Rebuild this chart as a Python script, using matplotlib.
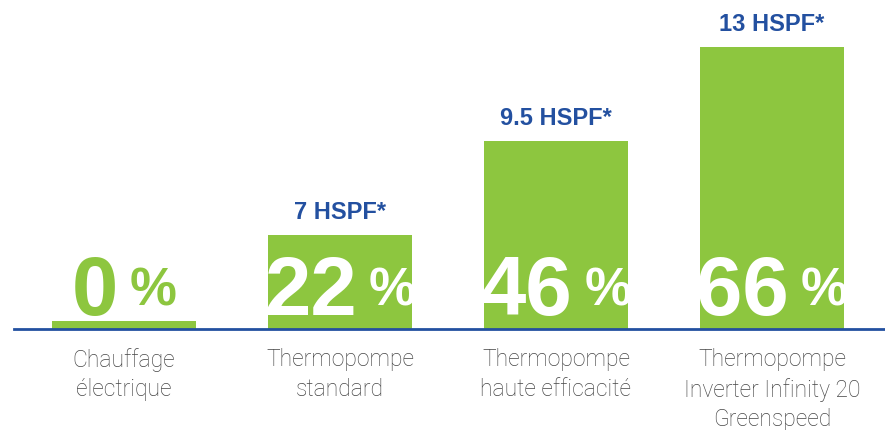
import matplotlib.pyplot as plt
import matplotlib.transforms as mtransforms

# Data
categories = ["Chauffage\nélectrique", "Thermopompe\nstandard",
              "Thermopompe\nhaute efficacité", "Thermopompe\nInverter Infinity 20\nGreenspeed"]
pct_labels = ["0", "22", "46", "66"]
bar_heights = [1.9, 22, 44, 66]
hspf_labels = ["", "7 HSPF*", "9.5 HSPF*", "13 HSPF*"]

GREEN = "#8dc63f"
BLUE = "#2350a0"
GREY = "#454545"

fig = plt.figure(figsize=(8.85, 4.31), dpi=100)
ax = fig.add_axes([14 / 885, 101 / 431, 871 / 885, 330 / 431])

x = list(range(len(categories)))
bars = ax.bar(x, bar_heights, width=0.667, color=GREEN, zorder=2)
ax.set_xlim(-0.509, 3.523)
ax.set_ylim(0, 77.2)

for s in ["top", "right", "left"]:
    ax.spines[s].set_visible(False)
ax.spines["bottom"].set_color(BLUE)
ax.spines["bottom"].set_linewidth(2)
ax.spines["bottom"].set_zorder(3)
ax.set_yticks([])
ax.set_xticks(x)
ax.set_xticklabels(categories, fontsize=16.5, color=GREY, family=["Roboto", "DejaVu Sans"],
                   fontweight="light", linespacing=1.36)
ax.tick_params(axis="x", length=0, pad=13)

# HSPF labels above bars
for xi, h, lab in zip(x, bar_heights, hspf_labels):
    if lab:
        ax.annotate(lab, (xi, h), xytext=(0, 12), textcoords="offset pixels",
                    ha="center", va="bottom", fontsize=17, fontweight="bold",
                    color=BLUE, family="Liberation Sans")

# Big percentage numbers, centred as "NN %"; white text is clipped to its bar
num_txts, pc_txts = [], []
for i, (xi, lab) in enumerate(zip(x, pct_labels)):
    col = GREEN if i == 0 else "white"
    t1 = ax.text(xi, 0, lab, ha="left", va="baseline", fontsize=60, fontweight="bold",
                 color=col, family="Liberation Sans", zorder=4)
    t2 = ax.text(xi, 0, "%", ha="left", va="baseline", fontsize=38, fontweight="bold",
                 color=col, family="Liberation Sans", zorder=4)
    if i > 0:
        t1.set_clip_path(bars[i])
        t2.set_clip_path(bars[i])
    num_txts.append(t1)
    pc_txts.append(t2)

fig.canvas.draw()
r = fig.canvas.get_renderer()
gap = 12
for xi, t1, t2 in zip(x, num_txts, pc_txts):
    w1 = t1.get_window_extent(r).width
    w2 = t2.get_window_extent(r).width
    total = w1 + gap + w2
    t1.set_transform(mtransforms.offset_copy(ax.transData, fig=fig, x=-total / 2, y=15, units="dots"))
    t2.set_transform(mtransforms.offset_copy(ax.transData, fig=fig, x=-total / 2 + w1 + gap, y=24, units="dots"))

fig.savefig("out.png", dpi=100)
